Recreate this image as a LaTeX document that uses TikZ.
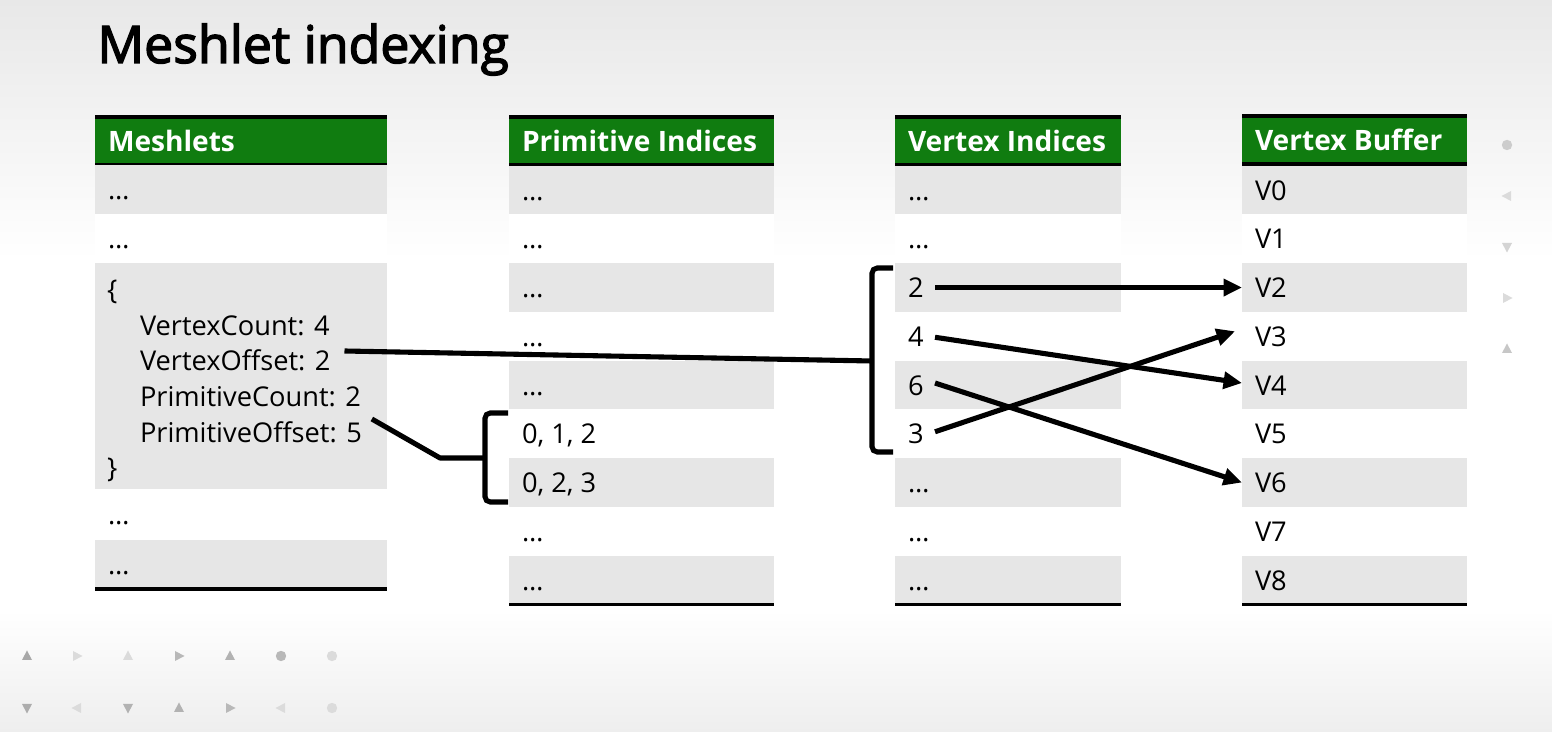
\documentclass[tikz,border=0pt]{standalone}
\usepackage{fontspec}
\setmainfont{Open Sans}
\newfontfamily\titlefont{Open Sans}[FakeBold=2.6]
\usetikzlibrary{arrows.meta,calc}

\definecolor{hdrgreen}{HTML}{107C10}
\definecolor{rowgray}{HTML}{E6E6E6}
\definecolor{bgtop}{HTML}{E8E8E8}
\definecolor{bgbot}{HTML}{EEEEEE}

% one pixel of the drawing grid, as a length
\newcommand{\pxl}{0.5669pt}

\tikzset{
  cell/.style={draw=none, inner sep=0pt, outer sep=0pt, anchor=north west},
  celltext/.style={inner sep=0pt, outer sep=0pt, anchor=base west, text=black,
    font=\fontsize{15.5}{18}\selectfont},
  hdrtext/.style={inner sep=0pt, outer sep=0pt, anchor=base west, text=white,
    font=\fontsize{16}{19}\selectfont\bfseries},
  rule/.style={line width=2pt, black},
  conn/.style={line width=2.9pt, black},
  arr/.style={conn, -{Triangle[length=10.5pt,width=9.5pt]}},
  bracket/.style={line width=2.9pt, black, rounded corners=3pt},
}

% \tcell{name}{x}{top}{width}{height}{fill}{text}
\newcommand{\tcell}[7]{%
  \node[cell, fill=#6, minimum width={#4*\pxl}, minimum height={#5*\pxl}] (#1) at (#2,#3) {};
  \node[celltext] (#1t) at ($(#1.north west)+(13,#5/2+10)$) {#7};
}
% \thead{name}{x}{top}{width}{title}
\newcommand{\thead}[5]{%
  \node[cell, fill=hdrgreen, minimum width={#4*\pxl}, minimum height={48*\pxl}] (#1) at (#2,#3) {};
  \draw[rule] (#1.north west) -- (#1.north east);
  \draw[rule] (#1.south west) -- (#1.south east);
  \node[hdrtext] (#1t) at ($(#1.north west)+(13,35)$) {#5};
}
% small decorative marks
\newcommand{\decotri}[4]{\fill[#4, shift={(#1,#2)}, rotate=#3] (0,-5.5) -- (-5,4) -- (5,4) -- cycle;}
\newcommand{\decodot}[3]{\fill[#3] (#1,#2) circle (5.2);}

\begin{document}
\begin{tikzpicture}[x=0.02cm, y=-0.02cm]

% background
\useasboundingbox (0,0) rectangle (1552,732);
\fill[white] (0,0) rectangle (1552,732);
\shade[top color=bgtop, bottom color=white] (0,0) rectangle (1552,260);
\shade[top color=white, bottom color=bgbot] (0,610) rectangle (1552,732);

% title
\node[inner sep=0pt, anchor=base west, font=\fontsize{29.5}{34}\selectfont\titlefont] (title) at (97,63) {Meshlet indexing};

% ---- Meshlets ----
\thead{mh}{95}{117}{293}{Meshlets}
\tcell{m0}{95}{165.5}{293}{48.5}{rowgray}{…}
\tcell{m1}{95}{214}{293}{49}{white}{…}
\node[cell, fill=rowgray, minimum width={293*\pxl}, minimum height={227*\pxl}] (m2) at (95,263) {};
\tcell{m3}{95}{490}{293}{50}{white}{…}
\tcell{m4}{95}{540}{293}{49}{rowgray}{…}
\draw[rule] (m4.south west) -- (m4.south east);

\node[celltext] (mob) at (107,300) {\{};
\node[celltext] (mvc) at (140,336) {VertexCount: 4};
\node[celltext] (mvo) at (140,371) {VertexOffset: 2};
\node[celltext] (mpc) at (140,407) {PrimitiveCount: 2};
\node[celltext] (mpo) at (140,443) {PrimitiveOffset: 5};
\node[celltext] (mcb) at (107,478) {\}};

% ---- Primitive Indices ----
\thead{ph}{509}{117}{266}{Primitive Indices}
\foreach \i/\t in {0/…,1/…,2/…,3/…,4/…,5/{0, 1, 2},6/{0, 2, 3},7/…,8/…} {
  \pgfmathsetmacro{\rowtop}{165.75+48.75*\i}
  \pgfmathtruncatemacro{\odd}{mod(\i,2)}
  \ifnum\odd=0 \def\fc{rowgray}\else\def\fc{white}\fi
  \tcell{p\i}{509}{\rowtop}{266}{48.75}{\fc}{\t}
}
\draw[rule] (p8.south west) -- (p8.south east);

% ---- Vertex Indices ----
\thead{vh}{895}{117}{227}{Vertex Indices}
\foreach \i/\t in {0/…,1/…,2/2,3/4,4/6,5/3,6/…,7/…,8/…} {
  \pgfmathsetmacro{\rowtop}{165.75+48.75*\i}
  \pgfmathtruncatemacro{\odd}{mod(\i,2)}
  \ifnum\odd=0 \def\fc{rowgray}\else\def\fc{white}\fi
  \tcell{vi\i}{895}{\rowtop}{227}{48.75}{\fc}{\t}
}
\draw[rule] (vi8.south west) -- (vi8.south east);

% ---- Vertex Buffer ----
\thead{bh}{1242}{116}{226}{Vertex Buffer}
\foreach \i in {0,...,8} {
  \pgfmathsetmacro{\rowtop}{165.75+48.75*\i}
  \pgfmathtruncatemacro{\odd}{mod(\i,2)}
  \ifnum\odd=0 \def\fc{rowgray}\else\def\fc{white}\fi
  \tcell{vb\i}{1242}{\rowtop}{226}{48.75}{\fc}{V\i}
}
\draw[rule] (vb8.south west) -- (vb8.south east);

% ---- brackets ----
\coordinate (pbt) at (508,413);
\coordinate (pbb) at (508,502);
\coordinate (pbm) at (485,458);
\coordinate (pbk) at (440,458);
\draw[bracket] (pbt) -- (485,413) -- (485,502) -- (pbb);

\coordinate (vbt) at (893,268);
\coordinate (vbb) at (893,452);
\coordinate (vbm) at (872,361);
\draw[bracket] (vbt) -- (872,268) -- (872,452) -- (vbb);

% ---- connectors from the meshlet fields ----
\draw[conn] ($(mvo.base east)+(14,-20)$) -- (vbm);
\draw[conn, line join=round] ($(mpo.base east)+(10,-24)$) -- (pbk) -- (pbm);

% ---- index -> vertex arrows ----
\draw[arr] ($(vi2.west)+(40,0)$) -- ($(vb2.west)+(0,0)$);
\draw[arr] ($(vi3.west)+(40,1)$) -- ($(vb4.west)+(0,-2)$);
\draw[arr] ($(vi4.west)+(40,-2)$) -- ($(vb6.west)+(0,0)$);
\draw[arr] ($(vi5.west)+(40,-2)$) -- ($(vb3.west)+(-7,-5)$);

% ---- decorative marks ----
\decotri{27}{656}{0}{black!34}
\decotri{77}{656}{-90}{black!14}
\decotri{128}{656}{0}{black!14}
\decotri{179}{656}{-90}{black!28}
\decotri{230}{656}{0}{black!30}
\decodot{281}{656}{black!28}
\decodot{332}{656}{black!14}
\decotri{27}{708}{180}{black!32}
\decotri{77}{708}{90}{black!14}
\decotri{128}{708}{180}{black!30}
\decotri{179}{708}{0}{black!30}
\decotri{230}{708}{-90}{black!28}
\decotri{281}{708}{90}{black!14}
\decodot{332}{708}{black!14}
\decodot{1507}{145}{black!20}
\decotri{1507}{196}{90}{black!14}
\decotri{1507}{247}{180}{black!17}
\decotri{1507}{298}{-90}{black!14}
\decotri{1507}{349}{0}{black!22}

\end{tikzpicture}
\end{document}
